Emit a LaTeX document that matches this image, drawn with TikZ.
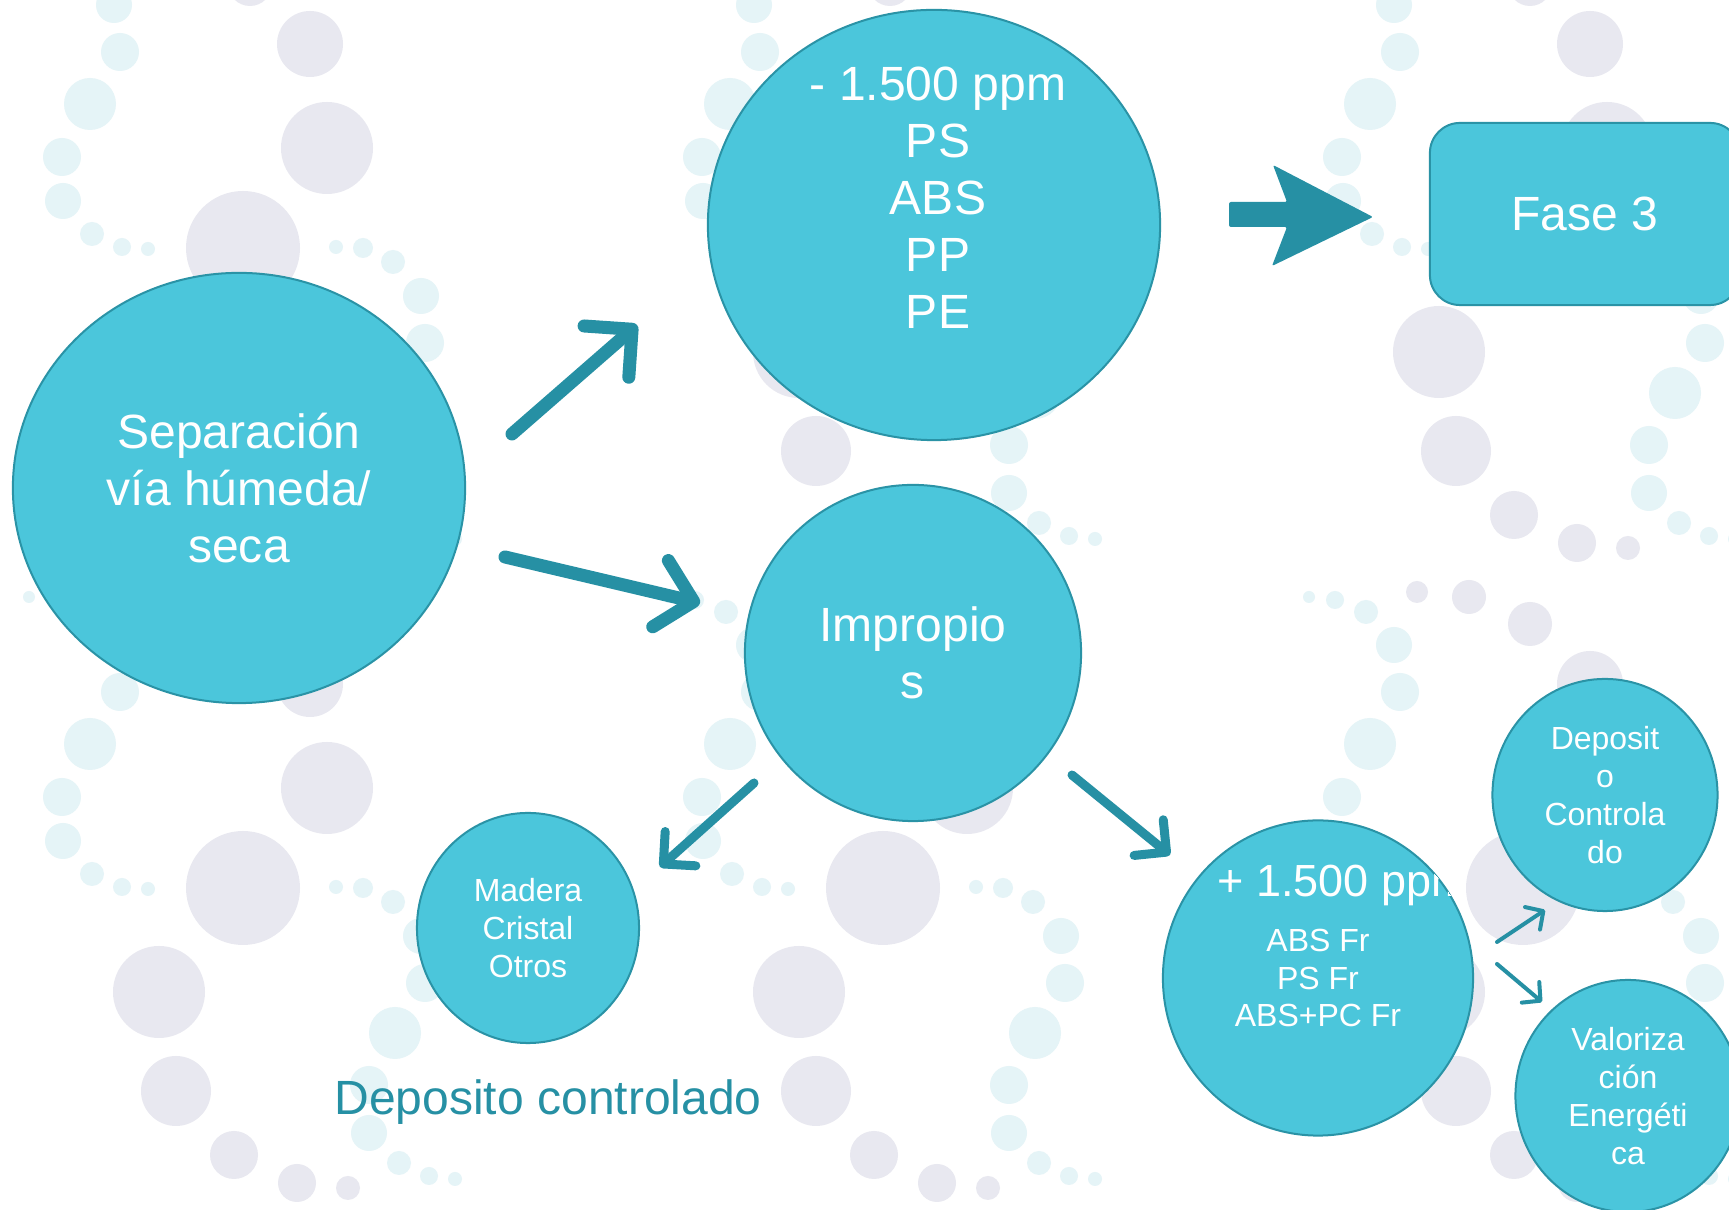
\documentclass[tikz,border=0pt]{standalone}
\usepackage{fontspec}
\setmainfont{Liberation Sans}
\usepackage{xcolor}
\usepackage{tikz}
\usetikzlibrary{arrows.meta, shapes.geometric}

\definecolor{relleno}{HTML}{4BC6DB}
\definecolor{borde}{HTML}{2A93A6}
\definecolor{oscuro}{HTML}{2690A4}
\definecolor{gris}{HTML}{E8E8F0}
\definecolor{celeste}{HTML}{E5F4F7}

\tikzset{
	burbuja/.style={ellipse, draw=borde, line width=0.02cm, fill=relleno,
		text=white, inner sep=0pt, align=center},
	grande/.style={font=\fontsize{13.66pt}{16.2pt}\selectfont},
	chico/.style={font=\fontsize{9.1pt}{10.8pt}\selectfont},
	flechagr/.style={draw=oscuro, line width=0.13cm, line cap=round,
		-{Straight Barb[length=0.34cm, width=0.68cm, round]}},
	flechame/.style={draw=oscuro, line width=0.09cm, line cap=round,
		-{Straight Barb[length=0.23cm, width=0.46cm, round]}},
	flechach/.style={draw=oscuro, line width=0.04cm, line cap=round,
		-{Straight Barb[length=0.13cm, width=0.27cm, round]}}
}

\begin{document}
\begin{tikzpicture}[x=0.01cm, y=-0.01cm]
	\useasboundingbox (0,0) rectangle (1729,1210);
	\clip (0,0) rectangle (1729,1210);
	\fill[white] (0,0) rectangle (1729,1210);

	% Fondo (burbujas)
	\foreach \dx in {0,640,1280} {
		\foreach \dy in {-640,0,640} {
			\foreach \x/\y/\r in {327/148/46, 243/248/57, 159/352/46, 176/451/35,
				234/515/24, 297/543/19, 348/548/12, 137/592/11, 189/597/17,
				250/624/22, 310/44/33}
				\fill[gris] (\x+\dx,\y+\dy) circle[radius=\r*0.01cm];
			\foreach \x/\y/\r in {29/597/6, 55/600/9, 86/612/12, 114/5/18,
				120/52/19, 90/104/26, 62/157/19, 63/201/18, 92/234/12,
				122/247/9, 148/249/7, 336/247/7, 363/248/10, 393/262/12,
				421/296/18, 425/343/19, 395/393/26, 369/445/19, 369/493/18,
				399/523/12, 429/536/9, 455/539/7}
				\fill[celeste] (\x+\dx,\y+\dy) circle[radius=\r*0.01cm];
		}
	}

	% Separacion
	\node[
		burbuja,
		grande,
		minimum width=4.52cm,
		minimum height=4.3cm
	] (sep) at (239,488) {Separación\\vía húmeda/\\seca};

	% - 1.500 ppm
	\node[
		burbuja,
		minimum width=4.52cm,
		minimum height=4.3cm
	] (menos) at (934,225) {};
	\node[grande, text=white, align=center] (menostxt) at (938,198)
		{- 1.500 ppm\\PS\\ABS\\PP\\PE};

	% Impropios
	\node[
		burbuja,
		grande,
		minimum width=3.36cm,
		minimum height=3.36cm
	] (impropios) at (913,653) {Impropio\\s};

	% Madera
	\node[
		burbuja,
		chico,
		minimum width=2.22cm,
		minimum height=2.3cm
	] (madera) at (528,928) {Madera\\Cristal\\Otros};
	\node[grande, text=oscuro, anchor=base west] (depctl) at (322,1115)
		{Deposito controlado};

	% + 1.500 ppm
	\node[
		burbuja,
		chico,
		minimum width=3.1cm,
		minimum height=3.15cm
	] (mas) at (1318,978) {ABS Fr\\PS Fr\\ABS+PC Fr};
	\begin{scope}
		\clip (mas.center) ellipse [x radius=1.55cm, y radius=1.575cm];
		\node[text=white, anchor=base west, font=\fontsize{12.8pt}{15pt}\selectfont]
			(mastxt) at (1205,897) {+ 1.500 ppm};
	\end{scope}

	% Deposito / Valorizacion
	\node[
		burbuja,
		chico,
		minimum width=2.25cm,
		minimum height=2.32cm
	] (deposito) at (1605,795) {Deposit\\o\\Controla\\do};
	\node[
		burbuja,
		chico,
		minimum width=2.25cm,
		minimum height=2.32cm
	] (valor) at (1628,1096) {Valoriza\\ción\\Energéti\\ca};

	% Fase 3
	\node[
		rectangle,
		rounded corners=0.3cm,
		draw=borde,
		line width=0.02cm,
		fill=relleno,
		text=white,
		grande,
		minimum width=3.1cm,
		minimum height=1.82cm
	] (fase) at (1585,214) {\raisebox{-0.04cm}{Fase 3}};

	% Flecha gruesa hacia Fase 3
	\fill[
		oscuro,
		rounded corners=0.02cm
	] (1229,202) -- (1287,202) -- (1273,165) -- (1373,217) -- (1272,266) --
		(1287,227) -- (1229,227) -- cycle;

	% Flechas
	\coordinate (f1a) at (512,434);
	\coordinate (f1b) at (637,325);
	\coordinate (f2a) at (505,557);
	\coordinate (f2b) at (700,603);
	\coordinate (f3a) at (754,783);
	\coordinate (f3b) at (660,867);
	\coordinate (f4a) at (1072,775);
	\coordinate (f4b) at (1170,855);
	\coordinate (f5a) at (1497,942);
	\coordinate (f5b) at (1545,910);
	\coordinate (f6a) at (1497,964);
	\coordinate (f6b) at (1542,1002);
	\draw [flechagr] (f1a) -- (f1b);
	\draw [flechagr] (f2a) -- (f2b);
	\draw [flechame] (f3a) -- (f3b);
	\draw [flechame] (f4a) -- (f4b);
	\draw [flechach] (f5a) -- (f5b);
	\draw [flechach] (f6a) -- (f6b);
\end{tikzpicture}
\end{document}
